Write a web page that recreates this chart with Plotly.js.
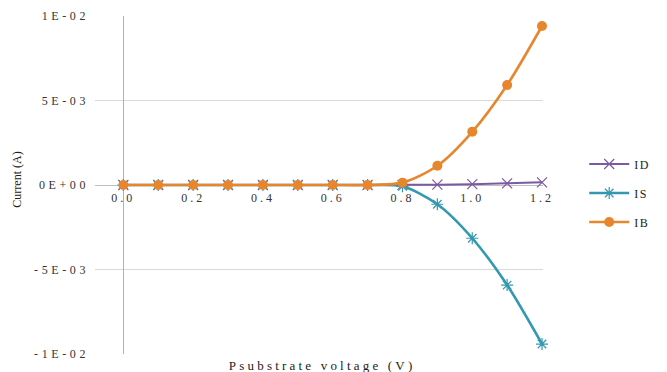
<!DOCTYPE html>
<html>
<head>
<meta charset="utf-8">
<script src="https://cdn.plot.ly/plotly-3.0.1.min.js"></script>
<style>
  html, body { margin: 0; padding: 0; background: #fff; }
  #chart { width: 667px; height: 372px; }
  g.ytick text { letter-spacing: 3.6px; }
  g.xtick text { letter-spacing: 3px; }
  text.legendtext { letter-spacing: 1.5px; }
</style>
</head>
<body>
<div id="chart"></div>
<script>
// Data
var voltage = [0.0, 0.1, 0.2, 0.3, 0.4, 0.5, 0.6, 0.7, 0.8, 0.9, 1.0, 1.1, 1.2];
var ID = [0, 0, 0, 0, 0, 0, 0, 0, 0.00001, 0.00002, 0.00005, 0.0001, 0.00016];
var IS = [0, 0, 0, 0, 0, 0, 0, 0, -0.00008, -0.00114, -0.00315, -0.00592, -0.00941];
var IB = [0, 0, 0, 0, 0, 0, 0, 0, 0.00014, 0.00114, 0.00315, 0.00592, 0.00941];
var seriesNames = ['ID', 'IS', 'IB'];
var yTickVals = [-0.01, -0.005, 0, 0.005, 0.01];
var yTickText = ['-1E-02', '-5E-03', '0E+00', '5E-03', '1E-02'];
var xTickVals = [0.0, 0.2, 0.4, 0.6, 0.8, 1.0, 1.2];
var xTickText = ['0.0', '0.2', '0.4', '0.6', '0.8', '1.0', '1.2'];

var serif = 'Times New Roman, Liberation Serif, serif';

var traces = [
  {
    x: voltage, y: ID, name: seriesNames[0], legendgroup: 'a',
    type: 'scatter', mode: 'lines+markers',
    line: { color: '#7B5AA3', width: 2, shape: 'spline', smoothing: 0.8 },
    marker: { symbol: 'x-thin', size: 10, line: { color: '#7B5AA3', width: 1.2 } },
    cliponaxis: false
  },
  {
    x: voltage, y: IS, name: seriesNames[1], legendgroup: 'b',
    type: 'scatter', mode: 'lines+markers',
    line: { color: '#3399B0', width: 2.6, shape: 'spline', smoothing: 0.8 },
    marker: { symbol: 'asterisk-open', size: 10, line: { color: '#3399B0', width: 1.2 } },
    cliponaxis: false
  },
  {
    x: voltage, y: IB, name: seriesNames[2], legendgroup: 'c',
    type: 'scatter', mode: 'lines+markers',
    line: { color: '#E8862E', width: 2.6, shape: 'spline', smoothing: 0.8 },
    marker: { symbol: 'circle', size: 10, color: '#E8862E' },
    cliponaxis: false
  }
];

var layout = {
  width: 667, height: 372,
  margin: { l: 95, r: 114, t: 16, b: 18 },
  paper_bgcolor: '#ffffff', plot_bgcolor: '#ffffff',
  showlegend: true,
  legend: {
    x: 1.092, xanchor: 'left', y: 0.605, yanchor: 'top',
    font: { family: serif, size: 12, color: '#222' },
    tracegroupgap: 10, itemwidth: 40, bgcolor: 'rgba(0,0,0,0)'
  },
  xaxis: {
    range: [-0.0813, 1.2028],
    anchor: 'free', position: 0.5,
    tickvals: xTickVals, ticktext: xTickText,
    showgrid: false, showline: false,
    zeroline: true, zerolinecolor: '#B0B0B0', zerolinewidth: 1,
    ticks: '', ticklabelstandoff: 4,
    tickfont: { family: serif, size: 12, color: '#333' }
  },
  yaxis: {
    range: [-0.01, 0.01],
    tickvals: yTickVals, ticktext: yTickText,
    showgrid: true, gridcolor: '#D9D9D9', gridwidth: 1,
    zeroline: true, zerolinecolor: '#BFBFBF', zerolinewidth: 1,
    showline: false, ticks: '', ticklabelstandoff: 5,
    tickfont: { family: serif, size: 12, color: '#333' }
  },
  annotations: [
    {
      xref: 'paper', yref: 'paper', x: 0.507, y: -0.033,
      xanchor: 'center', yanchor: 'middle', showarrow: false,
      text: 'Psubstrate voltage (V)',
      font: { family: serif, size: 13, color: '#222' }
    },
    {
      xref: 'paper', yref: 'paper', x: -0.1747, y: 0.515,
      xanchor: 'center', yanchor: 'middle', showarrow: false,
      textangle: -90, text: 'Current (A)',
      font: { family: serif, size: 12, color: '#222' }
    }
  ]
};

Plotly.newPlot('chart', traces, layout, { displayModeBar: false, staticPlot: true }).then(function () {
  var anns = document.querySelectorAll('g.annotation text');
  if (anns.length) { anns[0].style.letterSpacing = '3.2px'; }
});
</script>
</body>
</html>
